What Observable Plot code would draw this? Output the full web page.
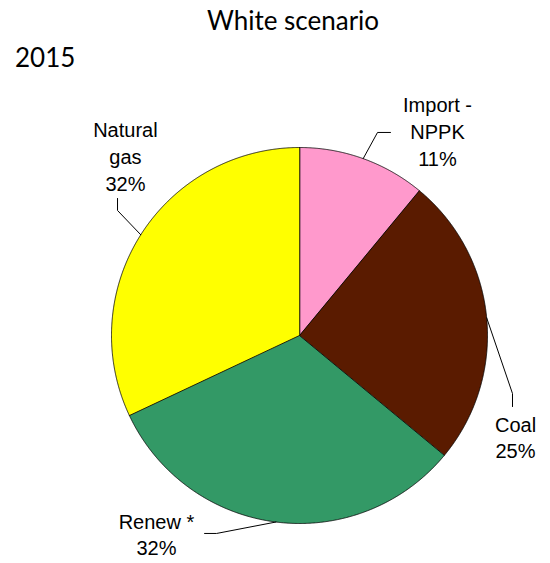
<!DOCTYPE html>
<html>
<head>
<meta charset="utf-8">
<script src="https://cdn.jsdelivr.net/npm/d3@7"></script>
<script src="https://cdn.jsdelivr.net/npm/@observablehq/plot@0.6"></script>
<style>
  html, body { margin: 0; padding: 0; background: #fff; }
  #wrap { position: relative; width: 550px; height: 563px; overflow: hidden; }
  .hdr { position: absolute; font-family: "Lato", "Open Sans", sans-serif; font-size: 26px; line-height: 26px; color: #000; white-space: nowrap; }
  #title { left: 0; width: 586px; text-align: center; top: 7px; }
  #sub { left: 15px; top: 44px; }
  #chart { position: absolute; left: 0; top: 80px; }
</style>
</head>
<body>
<div id="wrap">
  <div id="title" class="hdr">White scenario</div>
  <div id="sub" class="hdr">2015</div>
  <div id="chart"></div>
</div>
<script>
// ---- data ----
const categories = ["Import - NPPK", "Coal", "Renew *", "Natural gas"];
const shares = [11, 25, 32, 32];
const labelNames = ["Import -\nNPPK", "Coal", "Renew *", "Natural\ngas"];
const colors = ["#FF99CC", "#5A1B00", "#339966", "#FFFF00"];

// ---- layout (radius units relative to pie centre, y up) ----
const W = 550, H = 483, R = 188, CX = 299, CY = 255;
const labelPos = [
  {x: 0.734, y: 0.904},
  {x: 1.149, y: -0.654},
  {x: -0.761, y: -1.170},
  {x: -0.926, y: 0.771}
];
const leaderBend = [
  [{x: 0.415, y: 1.080}, {x: 0.484, y: 1.080}],
  [{x: 1.133, y: -0.309}, {x: 1.133, y: -0.378}],
  [{x: -0.441, y: -1.053}, {x: -0.505, y: -1.053}],
  [{x: -0.968, y: 0.665}, {x: -0.968, y: 0.729}]
];

const rows = categories.map((c, i) => ({cat: c, share: shares[i]}));
const arcs = d3.pie().sort(null).value(d => d.share)(rows);

const polys = [];
arcs.forEach(p => {
  const cat = p.data.cat;
  const n = Math.max(2, Math.ceil((p.endAngle - p.startAngle) / (Math.PI / 720)));
  polys.push({cat, x: 0, y: 0});
  for (let i = 0; i <= n; i++) {
    const a = p.startAngle + (p.endAngle - p.startAngle) * i / n;
    polys.push({cat, x: Math.sin(a), y: Math.cos(a)});
  }
});

const leaders = [];
arcs.forEach((p, i) => {
  const cat = p.data.cat;
  const m = (p.startAngle + p.endAngle) / 2;
  leaders.push({cat, x: Math.sin(m), y: Math.cos(m)});
  leaderBend[i].forEach(b => leaders.push({cat, x: b.x, y: b.y}));
});

const labels = arcs.map((p, i) => ({
  cat: p.data.cat,
  x: labelPos[i].x,
  y: labelPos[i].y,
  text: labelNames[i] + "\n" + p.data.share + "%"
}));

const chart = Plot.plot({
  width: W,
  height: H,
  margin: 0,
  style: {background: "#fff", overflow: "visible"},
  x: {axis: null, domain: [-CX / R, (W - CX) / R], range: [0, W]},
  y: {axis: null, domain: [(CY - H) / R, CY / R], range: [H, 0]},
  color: {domain: categories, range: colors},
  marks: [
    Plot.line(polys, {x: "x", y: "y", z: "cat", fill: "cat", stroke: "#000", strokeWidth: 0.8, curve: "linear-closed", strokeLinejoin: "round"}),
    Plot.line(leaders, {x: "x", y: "y", z: "cat", stroke: "#000", strokeWidth: 1, strokeLinejoin: "miter"}),
    Plot.text(labels, {x: "x", y: "y", text: "text", fontSize: 20, lineHeight: 1.33, lineAnchor: "bottom", textAnchor: "middle", fontFamily: "Liberation Sans", fill: "#000"})
  ]
});
document.getElementById("chart").appendChild(chart);
</script>
</body>
</html>
